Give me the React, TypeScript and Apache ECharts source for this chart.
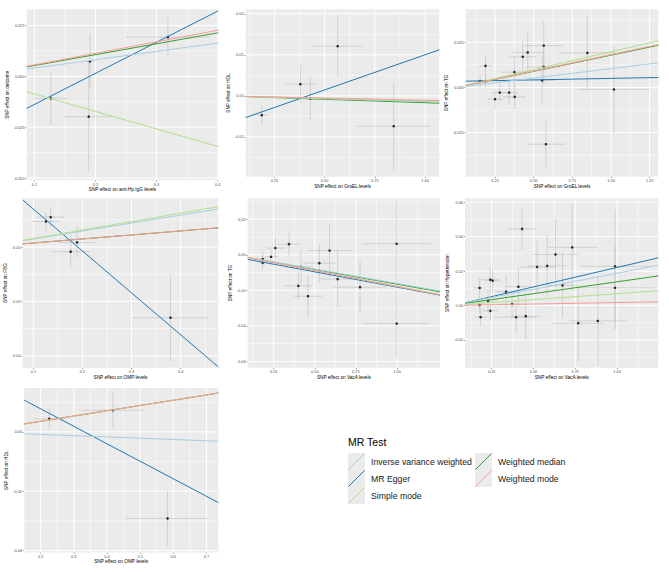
import React, { useEffect, useRef } from "react";
import * as echarts from "echarts";

// ---------- shared ----------
const methods = ["Inverse variance weighted", "MR Egger", "Simple mode", "Weighted median", "Weighted mode"];
const methodColors = ["#a6cee3", "#1f78b4", "#b2df8a", "#33a02c", "#fb9a99"];
const drawOrder = [1, 3, 0, 2, 4];
const legendTitle = "MR Test";

// ---------- panel 1 : anti-Hp IgG -> outcome ----------
// [beta.exposure, beta.outcome, se.exposure, se.outcome]
const p1Points = [
  [0.127, -0.0108, 0.0275, 0.0131],
  [0.191, 0.0074, 0.006, 0.0137],
  [0.189, -0.0198, 0.0405, 0.027],
  [0.3186, 0.0193, 0.0685, 0.0098],
];
const p1Slopes = [0.041, 0.153, -0.0861, 0.0535, 0.0567];
const p1EggerIntercept = -0.0291;
const p1XRange = [0.0875, 0.401];
const p1YRange = [-0.0511, 0.033];
const p1XTicks = [0.1, 0.2, 0.3, 0.4];
const p1YTicks = [-0.05, -0.025, 0, 0.025];
const p1Decimals = [1, 3];
const p1Titles = ["SNP effect on anti-Hp IgG levels", "SNP effect on outcome"];

// ---------- panel 2 : GroEL -> HDL ----------
const p2Points = [
  [0.187, -0.0047, 0.0355, 0.0023],
  [0.379, 0.00285, 0.0765, 0.0046],
  [0.429, -0.0007, 0.02, 0.005],
  [0.565, 0.0121, 0.125, 0.0074],
  [0.844, -0.0074, 0.185, 0.0106],
];
const p2Slopes = [-0.0014, 0.01712, -0.0012, -0.00167, -0.00106];
const p2EggerIntercept = -0.00711;
const p2XRange = [0.107, 1.071];
const p2YRange = [-0.0197, 0.0211];
const p2XTicks = [0.25, 0.5, 0.75, 1.0];
const p2YTicks = [-0.01, 0, 0.01, 0.02];
const p2Decimals = [2, 2];
const p2Titles = ["SNP effect on GroEL levels", "SNP effect on HDL"];

// ---------- panel 3 : GroEL -> TG ----------
const p3Points = [
  [0.153, 0.0035, 0.02, 0.004],
  [0.188, 0.012, 0.043, 0.0055],
  [0.188, 0.0035, 0.02, 0.004],
  [0.25, -0.0065, 0.054, 0.0057],
  [0.28, -0.0028, 0.054, 0.005],
  [0.341, -0.0028, 0.054, 0.0066],
  [0.375, 0.0085, 0.086, 0.0083],
  [0.377, -0.0052, 0.075, 0.007],
  [0.429, 0.017, 0.085, 0.0092],
  [0.461, 0.0194, 0.105, 0.0115],
  [0.565, 0.0232, 0.124, 0.013],
  [0.565, 0.0114, 0.11, 0.0097],
  [0.554, 0.0039, 0.08, 0.0127],
  [0.579, -0.0314, 0.126, 0.014],
  [0.847, 0.0192, 0.185, 0.0203],
  [1.019, -0.0011, 0.229, 0.0242],
];
const p3Slopes = [0.01045, 0.00164, 0.0198, 0.0179, 0.0182];
const p3EggerIntercept = 0.0034;
const p3XRange = [0.06, 1.306];
const p3YRange = [-0.0494, 0.0433];
const p3XTicks = [0.25, 0.5, 0.75, 1.0, 1.25];
const p3YTicks = [-0.025, 0, 0.025];
const p3Decimals = [2, 3];
const p3Titles = ["SNP effect on GroEL levels", "SNP effect on TG"];

// ---------- panel 4 : OMP -> FBG ----------
const p4Points = [
  [0.1258, 0.0094, 0.029, 0.0034],
  [0.1353, 0.011, 0.028, 0.0037],
  [0.1761, -0.0017, 0.039, 0.0056],
  [0.189, 0.0017, 0.036, 0.0056],
  [0.3794, -0.026, 0.0765, 0.016],
];
const p4Slopes = [0.0293, -0.154, 0.0311, 0.01476, 0.0148];
const p4EggerIntercept = 0.02934;
const p4XRange = [0.0783, 0.4767];
const p4YRange = [-0.0444, 0.0179];
const p4XTicks = [0.1, 0.2, 0.3, 0.4];
const p4YTicks = [-0.04, -0.02, 0];
const p4Decimals = [1, 2];
const p4Titles = ["SNP effect on OMP levels", "SNP effect on FBG"];

// ---------- panel 5 : VacA -> TG ----------
const p5Points = [
  [0.183, -0.0024, 0.02, 0.004],
  [0.183, -0.0045, 0.02, 0.004],
  [0.234, -0.0011, 0.04, 0.0042],
  [0.26, 0.0038, 0.055, 0.0058],
  [0.343, 0.006, 0.073, 0.0072],
  [0.416, -0.0068, 0.07, 0.0096],
  [0.4, -0.0175, 0.083, 0.0077],
  [0.459, -0.0233, 0.086, 0.0115],
  [0.528, -0.0047, 0.1, 0.0107],
  [0.59, 0.0024, 0.13, 0.0152],
  [0.639, -0.0137, 0.1, 0.016],
  [0.775, -0.0182, 0.162, 0.0146],
  [0.998, 0.0062, 0.213, 0.0249],
  [0.998, -0.0387, 0.2, 0.0193],
];
const p5Slopes = [-0.0161, -0.0172, -0.0177, -0.01653, -0.01785];
const p5EggerIntercept = -0.001;
const p5XRange = [0.092, 1.2615];
const p5YRange = [-0.0636, 0.0318];
const p5XTicks = [0.25, 0.5, 0.75, 1.0];
const p5YTicks = [-0.06, -0.04, -0.02, 0, 0.02];
const p5Decimals = [2, 2];
const p5Titles = ["SNP effect on VacA levels", "SNP effect on TG"];

// ---------- panel 6 : VacA -> Hypertension ----------
const p6Points = [
  [0.178, 0.0102, 0.035, 0.0057],
  [0.178, 0.0004, 0.015, 0.0049],
  [0.184, -0.0068, 0.035, 0.0053],
  [0.228, 0.0027, 0.055, 0.0067],
  [0.242, 0.015, 0.055, 0.0073],
  [0.256, 0.0144, 0.045, 0.0063],
  [0.242, -0.0031, 0.045, 0.0054],
  [0.336, 0.008, 0.065, 0.0093],
  [0.372, 0.0008, 0.075, 0.0073],
  [0.396, -0.0068, 0.125, 0.0093],
  [0.41, 0.0109, 0.075, 0.011],
  [0.432, 0.0445, 0.087, 0.0122],
  [0.454, -0.0062, 0.09, 0.0137],
  [0.522, 0.0224, 0.105, 0.0151],
  [0.582, 0.023, 0.115, 0.018],
  [0.632, 0.0297, 0.138, 0.0205],
  [0.674, 0.0117, 0.084, 0.019],
  [0.732, 0.0338, 0.15, 0.0249],
  [0.768, -0.0103, 0.157, 0.0224],
  [0.885, -0.009, 0.175, 0.0263],
  [0.988, 0.0228, 0.205, 0.033],
  [0.988, 0.0103, 0.237, 0.0244],
];
const p6Slopes = [0.01877, 0.0226, 0.00689, 0.01377, 0.00172];
const p6EggerIntercept = -0.0005;
const p6XRange = [0.0904, 1.247];
const p6YRange = [-0.0362, 0.0623];
const p6XTicks = [0.25, 0.5, 0.75, 1.0];
const p6YTicks = [-0.02, 0, 0.02, 0.04, 0.06];
const p6Decimals = [2, 2];
const p6Titles = ["SNP effect on VacA levels", "SNP effect on Hypertension"];

// ---------- panel 7 : OMP -> HDL ----------
const p7Points = [
  [0.226, 0.0044, 0.049, 0.0036],
  [0.418, 0.0073, 0.0915, 0.0062],
  [0.583, -0.0292, 0.1255, 0.0092],
];
const p7Slopes = [-0.0043, -0.05896, 0.0178, 0.0178, 0.0178];
const p7EggerIntercept = 0.01956;
const p7XRange = [0.1497, 0.736];
const p7YRange = [-0.0407, 0.0148];
const p7XTicks = [0.2, 0.3, 0.4, 0.5, 0.6, 0.7];
const p7YTicks = [-0.04, -0.02, 0];
const p7Decimals = [1, 2];
const p7Titles = ["SNP effect on OMP levels", "SNP effect on HDL"];

// ---------- layout (page pixels) ----------
const layouts = [
  { left: 26.7, top: 9.3, width: 191.6, height: 171, yGap: 15, xGap: 5.5 },
  { left: 245.7, top: 9.3, width: 193.6, height: 167.4, yGap: 12.4, xGap: 6 },
  { left: 465.7, top: 9.3, width: 192.6, height: 167.4, yGap: 12.3, xGap: 6 },
  { left: 22.7, top: 198.3, width: 195.6, height: 169.5, yGap: 12, xGap: 6 },
  { left: 247.7, top: 198.3, width: 192.3, height: 169.5, yGap: 13.3, xGap: 6 },
  { left: 465, top: 198.3, width: 193.3, height: 169.5, yGap: 11.6, xGap: 6 },
  { left: 24, top: 388, width: 194.3, height: 164.5, yGap: 12.3, xGap: 6 },
];

const FONT = "'Liberation Sans', Arial, Helvetica, sans-serif";

const panels = [
  { points: p1Points, slopes: p1Slopes, egger: p1EggerIntercept, xr: p1XRange, yr: p1YRange, xt: p1XTicks, yt: p1YTicks, dec: p1Decimals, titles: p1Titles },
  { points: p2Points, slopes: p2Slopes, egger: p2EggerIntercept, xr: p2XRange, yr: p2YRange, xt: p2XTicks, yt: p2YTicks, dec: p2Decimals, titles: p2Titles },
  { points: p3Points, slopes: p3Slopes, egger: p3EggerIntercept, xr: p3XRange, yr: p3YRange, xt: p3XTicks, yt: p3YTicks, dec: p3Decimals, titles: p3Titles },
  { points: p4Points, slopes: p4Slopes, egger: p4EggerIntercept, xr: p4XRange, yr: p4YRange, xt: p4XTicks, yt: p4YTicks, dec: p4Decimals, titles: p4Titles },
  { points: p5Points, slopes: p5Slopes, egger: p5EggerIntercept, xr: p5XRange, yr: p5YRange, xt: p5XTicks, yt: p5YTicks, dec: p5Decimals, titles: p5Titles },
  { points: p6Points, slopes: p6Slopes, egger: p6EggerIntercept, xr: p6XRange, yr: p6YRange, xt: p6XTicks, yt: p6YTicks, dec: p6Decimals, titles: p6Titles },
  { points: p7Points, slopes: p7Slopes, egger: p7EggerIntercept, xr: p7XRange, yr: p7YRange, xt: p7XTicks, yt: p7YTicks, dec: p7Decimals, titles: p7Titles },
];

function makeAxis(idx: number, range: number[], ticks: number[], dec: number, title: string, gap: number) {
  return {
    type: "value",
    gridIndex: idx,
    min: range[0],
    max: range[1],
    name: title,
    nameLocation: "middle",
    nameGap: gap,
    nameTextStyle: { fontSize: 4.7, color: "#000", fontFamily: FONT },
    axisLine: { show: false, onZero: false },
    axisTick: { show: true, customValues: ticks, length: 1.3, lineStyle: { color: "#333", width: 0.5 } },
    axisLabel: {
      customValues: ticks,
      fontSize: 3.9,
      color: "#4d4d4d",
      fontFamily: FONT,
      margin: 2,
      formatter: (v: number) => Number(v).toFixed(dec),
    },
    splitLine: { show: false },
    minorSplitLine: { show: false },
  };
}

function minorOf(ticks: number[], range: number[]) {
  const out: number[] = [];
  const step = ticks.length > 1 ? ticks[1] - ticks[0] : 0;
  const ext = [ticks[0] - step, ...ticks, ticks[ticks.length - 1] + step];
  for (let i = 1; i < ext.length; i++) {
    const m = (ext[i - 1] + ext[i]) / 2;
    if (m > range[0] && m < range[1]) out.push(m);
  }
  return out;
}

function gridLinesRenderer(p: any) {
  return (params: any, api: any) => {
    const cs = params.coordSys;
    const children: any[] = [];
    const vline = (v: number, w: number) => {
      const x = api.coord([v, p.yr[0]])[0];
      children.push({ type: "line", shape: { x1: x, y1: cs.y, x2: x, y2: cs.y + cs.height }, style: { stroke: "#ffffff", lineWidth: w } });
    };
    const hline = (v: number, w: number) => {
      const y = api.coord([p.xr[0], v])[1];
      children.push({ type: "line", shape: { x1: cs.x, y1: y, x2: cs.x + cs.width, y2: y }, style: { stroke: "#ffffff", lineWidth: w } });
    };
    minorOf(p.xt, p.xr).forEach((v) => vline(v, 0.5));
    minorOf(p.yt, p.yr).forEach((v) => hline(v, 0.5));
    p.xt.forEach((v: number) => vline(v, 1));
    p.yt.forEach((v: number) => hline(v, 1));
    return { type: "group", children };
  };
}

function errorBars(params: any, api: any) {
  const x = api.value(0);
  const y = api.value(1);
  const dx = api.value(2);
  const dy = api.value(3);
  const h1 = api.coord([x - dx, y]);
  const h2 = api.coord([x + dx, y]);
  const v1 = api.coord([x, y - dy]);
  const v2 = api.coord([x, y + dy]);
  const style = { stroke: "#bebebe", lineWidth: 0.6 };
  return {
    type: "group",
    children: [
      { type: "line", shape: { x1: v1[0], y1: v1[1], x2: v2[0], y2: v2[1] }, style },
      { type: "line", shape: { x1: h1[0], y1: h1[1], x2: h2[0], y2: h2[1] }, style },
    ],
  };
}

function buildOption() {
  const grid: any[] = [];
  const xAxis: any[] = [];
  const yAxis: any[] = [];
  const series: any[] = [];
  panels.forEach((p, i) => {
    const L = layouts[i];
    grid.push({
      left: L.left,
      top: L.top,
      width: L.width,
      height: L.height,
      show: true,
      z: -1,
      backgroundColor: "#ebebeb",
      borderWidth: 0,
      containLabel: false,
    });
    xAxis.push(makeAxis(i, p.xr, p.xt, p.dec[0], p.titles[0], L.xGap));
    yAxis.push(makeAxis(i, p.yr, p.yt, p.dec[1], p.titles[1], L.yGap));
    series.push({
      type: "custom",
      name: "grid lines",
      xAxisIndex: i,
      yAxisIndex: i,
      renderItem: gridLinesRenderer(p),
      encode: { x: 0, y: 1 },
      data: [[p.xr[0], p.yr[0]]],
      silent: true,
      z: 1,
    });
    series.push({
      type: "custom",
      name: "error bars",
      xAxisIndex: i,
      yAxisIndex: i,
      renderItem: errorBars,
      encode: { x: 0, y: 1 },
      data: p.points,
      silent: true,
      z: 2,
    });
    series.push({
      type: "scatter",
      name: "SNP",
      xAxisIndex: i,
      yAxisIndex: i,
      data: p.points.map((d) => [d[0], d[1]]),
      symbol: "circle",
      symbolSize: 2.6,
      itemStyle: { color: "#000" },
      silent: true,
      z: 3,
    });
    drawOrder.forEach((m) => {
      const a = m === 1 ? p.egger : 0;
      const b = p.slopes[m];
      series.push({
        type: "line",
        name: methods[m],
        xAxisIndex: i,
        yAxisIndex: i,
        data: [
          [p.xr[0], a + b * p.xr[0]],
          [p.xr[1], a + b * p.xr[1]],
        ],
        showSymbol: false,
        symbol: "none",
        clip: true,
        lineStyle: { color: methodColors[m], width: 1 },
        silent: true,
        z: 4,
      });
    });
  });

  const graphic: any[] = [
    {
      type: "text",
      left: 348,
      top: 436,
      style: { text: legendTitle, fontSize: 10.5, fill: "#000", fontFamily: FONT },
    },
  ];
  methods.forEach((name, i) => {
    const col = i < 3 ? 0 : 1;
    const row = i < 3 ? i : i - 3;
    const kx = col === 0 ? 348 : 475;
    const ky = 453 + row * 17;
    graphic.push({ type: "rect", shape: { x: kx, y: ky, width: 17, height: 17 }, style: { fill: "#ebebeb" } });
    graphic.push({
      type: "line",
      shape: { x1: kx + 0.5, y1: ky + 16.5, x2: kx + 16.5, y2: ky + 0.5 },
      style: { stroke: methodColors[i], lineWidth: 1 },
    });
    graphic.push({
      type: "text",
      x: kx + 23,
      y: ky + 8.5,
      style: { text: name, fontSize: 8.7, fill: "#1a1a1a", fontFamily: FONT, verticalAlign: "middle" },
    });
  });

  return {
    animation: false,
    backgroundColor: "#ffffff",
    textStyle: { fontFamily: FONT },
    grid,
    xAxis,
    yAxis,
    series,
    graphic,
  };
}

export default function App() {
  const ref = useRef<HTMLDivElement>(null);
  useEffect(() => {
    if (!ref.current) return;
    const chart = echarts.init(ref.current, null, { renderer: "svg" });
    chart.setOption(buildOption() as any);
    return () => chart.dispose();
  }, []);
  return <div ref={ref} style={{ position: "absolute", left: 0, top: 0, width: 669, height: 572 }} />;
}
